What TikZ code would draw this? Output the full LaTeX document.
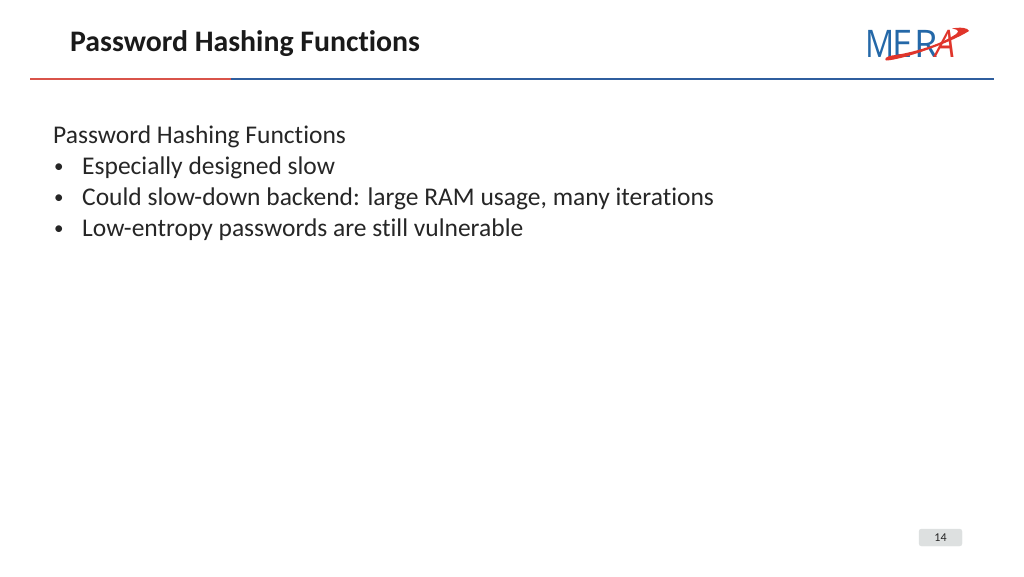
\documentclass[tikz,border=0pt]{standalone}
\usepackage{fontspec}
\setmainfont[Ligatures=NoCommon]{Carlito}
\newfontfamily\logofont{Open Sans}
\definecolor{ruleblue}{HTML}{2F5E9E}
\definecolor{rulered}{HTML}{D9534A}
\definecolor{logoblue}{HTML}{2468A8}
\definecolor{logored}{HTML}{E0352B}
\definecolor{pagebox}{HTML}{DDE0E0}
\definecolor{titleink}{HTML}{1A1A1A}
\definecolor{bodyink}{HTML}{262626}
\tikzset{
  titletext/.style={anchor=base west,inner sep=0pt,font=\fontsize{29.8}{32}\selectfont\bfseries,text=titleink},
  bodytext/.style={anchor=base west,inner sep=0pt,font=\fontsize{25.5}{30}\selectfont,text=bodyink},
  bullettext/.style={anchor=base west,inner sep=0pt,font=\fontsize{19}{30}\selectfont,text=bodyink},
  rulestroke/.style={line width=2.4pt},
  logotext/.style={anchor=base west,inner sep=0pt,font=\logofont\fontsize{38}{40}\selectfont},
}
\begin{document}
\begin{tikzpicture}[x=1pt,y=-1pt]
\useasboundingbox[fill=white] (0,0) rectangle (1024,576);
\node[titletext] (title) at (70,51) {Password Hashing Functions};
\coordinate (ruleL) at (30,79);
\coordinate (ruleM) at (231,79);
\coordinate (ruleR) at (994,79);
\draw[rulestroke,ruleblue] (ruleM) -- (ruleR);
\draw[rulestroke,rulered] (ruleL) -- (ruleM);
\node[bodytext] (head) at (53,143) {Password Hashing Functions};
\node[bullettext] (b1) at (54,172.5) {•};
\node[bodytext] (t1) at (82,174) {Especially designed slow};
\node[bullettext] (b2) at (54,203.5) {•};
\node[bodytext] (t2) at (82,205) {Could slow-down backend: large RAM usage, many iterations};
\node[bullettext] (b3) at (54,234.5) {•};
\node[bodytext] (t3) at (82,236) {Low-entropy passwords are still vulnerable};
% logo
\node[logotext,text=logoblue,xscale=0.85,transform shape] (mer) at (865.5,57) {M};
\node[logotext,text=logoblue,xscale=0.95,transform shape] (mer2) at (892,57) {E};
\node[logotext,text=logoblue,transform shape] (mer3) at (914,57) {R};
\node[logotext,text=logored,xslant=0.2,xscale=0.85,transform shape] (logoa) at (933,57) {A};
\fill[logored] (886,60.5) .. controls (902,60) and (950,43) .. (969,31)
  .. controls (968,27.5) and (960,27) .. (952,28.5)
  .. controls (960,30) and (960,32) .. (953,36)
  .. controls (935,47) and (905,54) .. (892,55.5)
  .. controls (886,56.5) and (884,59) .. (886,60.5) -- cycle;
% page number
\node[draw=pagebox,fill=pagebox,rounded corners=2.5pt,minimum width=43pt,minimum height=17pt,inner sep=0pt,
  font=\fontsize{12}{14}\selectfont,text=bodyink] (page) at (940.5,537.5) {14};
\end{tikzpicture}
\end{document}
